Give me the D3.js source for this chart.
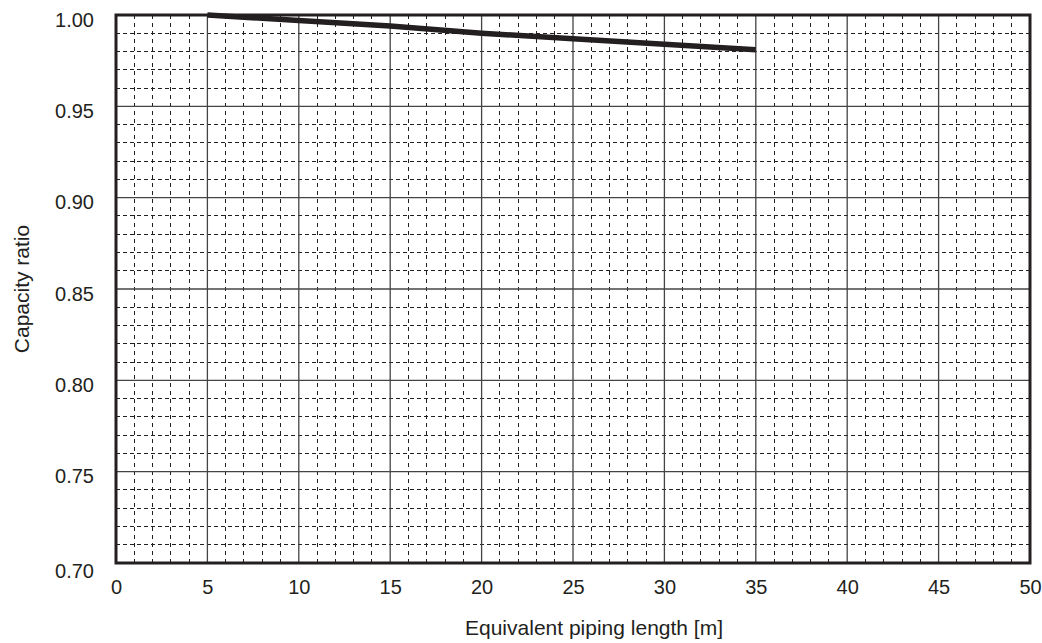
<!DOCTYPE html>
<html>
<head>
<meta charset="utf-8">
<script src="https://cdn.jsdelivr.net/npm/d3@7"></script>
<style>
  html, body { margin: 0; padding: 0; background: #fff; }
  svg { display: block; }
  text { font-family: "Liberation Sans", Arial, sans-serif; fill: #231f20; }
</style>
</head>
<body>
<svg id="chart" width="1042" height="643"></svg>
<script>
// Data
const lengths = [5, 10, 15, 20, 25, 30, 35];
const capacityRatio = [1.000, 0.997, 0.994, 0.990, 0.987, 0.984, 0.981];
const xTicks = [0, 5, 10, 15, 20, 25, 30, 35, 40, 45, 50];
const yTicks = [0.70, 0.75, 0.80, 0.85, 0.90, 0.95, 1.00];
const xTitle = "Equivalent piping length [m]";
const yTitle = "Capacity ratio";

const svg = d3.select("#chart");
const L = 116, R = 1030, T = 15, B = 563;
const x = d3.scaleLinear().domain([0, 50]).range([L, R]);
const y = d3.scaleLinear().domain([0.70, 1.00]).range([B, T]);

// Minor grid (dashed)
const xMinor = d3.range(0, 51, 1).filter(v => v % 5 !== 0);
const yMinor = d3.range(70, 101, 1).filter(v => v % 5 !== 0).map(v => v / 100);
const g = svg.append("g");
g.selectAll("line.xm").data(xMinor).join("line")
  .attr("x1", d => x(d)).attr("x2", d => x(d))
  .attr("y1", T).attr("y2", B)
  .attr("stroke", "#231f20").attr("stroke-width", 1)
  .attr("stroke-dasharray", "4,4").attr("shape-rendering", "crispEdges");
g.selectAll("line.ym").data(yMinor).join("line")
  .attr("x1", L).attr("x2", R)
  .attr("y1", d => y(d)).attr("y2", d => y(d))
  .attr("stroke", "#231f20").attr("stroke-width", 1)
  .attr("stroke-dasharray", "4,3").attr("shape-rendering", "crispEdges");

// Major grid (solid)
g.selectAll("line.xM").data(xTicks).join("line")
  .attr("x1", d => x(d)).attr("x2", d => x(d))
  .attr("y1", T).attr("y2", B)
  .attr("stroke", "#444").attr("stroke-width", 1.3);
g.selectAll("line.yM").data(yTicks).join("line")
  .attr("x1", L).attr("x2", R)
  .attr("y1", d => y(d)).attr("y2", d => y(d))
  .attr("stroke", "#444").attr("stroke-width", 1.3);

// Data line
const line = d3.line().x((d, i) => x(lengths[i])).y(d => y(d));
svg.append("path").datum(capacityRatio)
  .attr("d", line)
  .attr("fill", "none")
  .attr("stroke", "#231f20")
  .attr("stroke-width", 5.5);

// Border
svg.append("rect").attr("x", L).attr("y", T)
  .attr("width", R - L).attr("height", B - T)
  .attr("fill", "none").attr("stroke", "#231f20").attr("stroke-width", 3);

// Axes (labels only)
const xAxis = d3.axisBottom(x).tickValues(xTicks).tickSize(0).tickPadding(0)
  .tickFormat(d3.format("d"));
const xa = svg.append("g").attr("transform", `translate(0,${B})`).call(xAxis);
xa.select(".domain").remove();
xa.selectAll("text").attr("font-size", 20).attr("dy", null).attr("y", 31)
  .style("font-family", '"Liberation Sans", Arial, sans-serif').attr("fill", "#231f20");

const yAxis = d3.axisLeft(y).tickValues(yTicks).tickSize(0).tickPadding(0)
  .tickFormat(d3.format(".2f"));
const ya = svg.append("g").attr("transform", `translate(${L},0)`).call(yAxis);
ya.select(".domain").remove();
ya.selectAll("text").attr("font-size", 20).attr("x", -22)
  .attr("dy", d => d === 0.70 ? "0.7em" : "0.55em")
  .style("font-family", '"Liberation Sans", Arial, sans-serif').attr("fill", "#231f20");

// Titles
svg.append("text").attr("x", 594).attr("y", 635)
  .attr("text-anchor", "middle").attr("font-size", 21).text(xTitle);
svg.append("text")
  .attr("transform", `translate(29,${(T + B) / 2}) rotate(-90)`)
  .attr("text-anchor", "middle").attr("font-size", 21).text(yTitle);
</script>
</body>
</html>
